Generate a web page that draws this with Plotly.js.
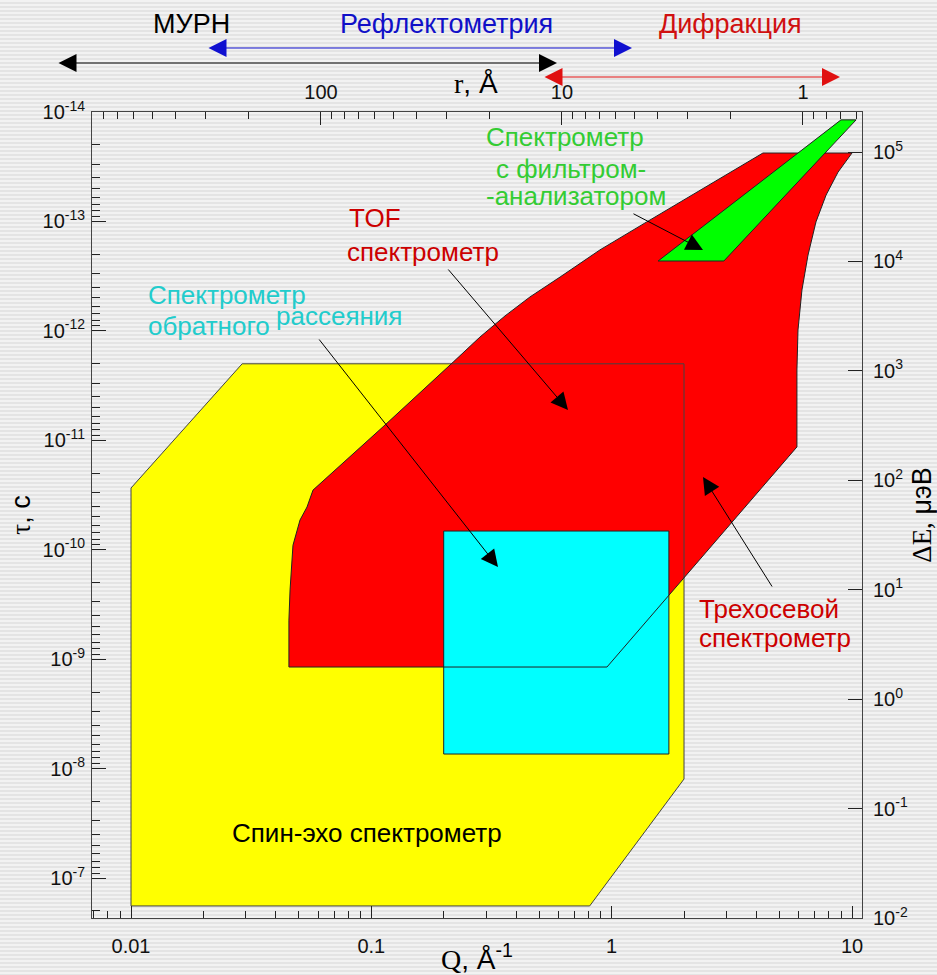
<!DOCTYPE html>
<html>
<head>
<meta charset="utf-8">
<script src="https://cdn.plot.ly/plotly-3.0.1.min.js"></script>
<style>html,body{margin:0;padding:0;background:#ebebeb;}</style>
</head>
<body>
<div id="chart" style="width:937px;height:975px;"></div>
<script>
// ---------- data (Q in Å^-1, τ in s) ----------
const spinEchoQ   = [0.01, 0.01, 0.029, 2.0, 2.0, 0.81, 0.01];
const spinEchoTau = [1.8e-7, 2.73e-11, 2.0e-12, 2.0e-12, 1.245e-8, 1.8e-7, 1.8e-7];

const tofQ   = [0.0454, 0.0454, 0.0459, 0.0463, 0.0472, 0.0505, 0.054, 0.0572, 0.114, 0.219, 0.283, 0.36, 0.457, 0.61, 0.894, 1.40, 4.26, 10.0, 8.75, 7.80, 7.08, 6.56, 6.19, 5.96, 5.90, 5.90, 0.956, 0.0454];
const tofTau = [1.18e-9, 4.4e-10, 2.33e-10, 1.63e-10, 9.1e-11, 5.35e-11, 4.07e-11, 2.85e-11, 7.25e-12, 1.93e-12, 1.14e-12, 7.3e-13, 4.9e-13, 3.22e-13, 1.82e-13, 1.01e-13, 2.37e-14, 2.37e-14, 3.54e-14, 5.74e-14, 1.01e-13, 2.03e-13, 4.23e-13, 9.82e-13, 2.28e-12, 1.15e-11, 1.18e-9, 1.18e-9];

const backQ   = [0.2, 0.2, 1.73, 1.73, 0.2];
const backTau = [7.36e-9, 6.75e-11, 6.75e-11, 7.36e-9, 7.36e-9];

const filterQ   = [1.56, 9.0, 10.4, 2.93, 1.56];
const filterTau = [2.30e-13, 1.18e-14, 1.18e-14, 2.30e-13, 2.30e-13];

// ---------- tick labels ----------
const qTickVals = [0.01, 0.1, 1, 10];
const qTickText = ['0.01', '0.1', '1', '10'];
const tauTickVals = [1e-14, 1e-13, 1e-12, 1e-11, 1e-10, 1e-9, 1e-8, 1e-7];
const tauTickText = ['10<sup>-14</sup>', '10<sup>-13</sup>', '10<sup>-12</sup>', '10<sup>-11</sup>', '10<sup>-10</sup>', '10<sup>-9</sup>', '10<sup>-8</sup>', '10<sup>-7</sup>'];
const rTickVals = [100, 10, 1];
const rTickText = ['100', '10', '1'];
const eTickVals = [1e-2, 1e-1, 1, 10, 100, 1e3, 1e4, 1e5];
const eTickText = ['10<sup>-2</sup>', '10<sup>-1</sup>', '10<sup>0</sup>', '10<sup>1</sup>', '10<sup>2</sup>', '10<sup>3</sup>', '10<sup>4</sup>', '10<sup>5</sup>'];

function minorVals(expFrom, expTo) {
  const out = [];
  for (let e = expFrom; e <= expTo; e++) for (let m = 2; m <= 9; m++) out.push(m * Math.pow(10, e));
  return out;
}

// ---------- layout helpers (pixel -> paper) ----------
const L = 92, R = 862, T = 112, B = 918;
const px = x => (x - L) / (R - L);
const py = y => (B - y) / (B - T);

const SANS = 'Liberation Sans, Arial, sans-serif';

function fillTrace(x, y, color) {
  return {x, y, type: 'scatter', mode: 'lines', fill: 'toself', fillcolor: color,
          line: {width: 0, color: color}, hoverinfo: 'skip', showlegend: false};
}
function lineTrace(x, y, color) {
  return {x, y, type: 'scatter', mode: 'lines', line: {width: 1, color: color},
          hoverinfo: 'skip', showlegend: false};
}

const traces = [
  fillTrace(spinEchoQ, spinEchoTau, '#ffff00'),
  fillTrace(tofQ, tofTau, '#ff0000'),
  fillTrace(backQ, backTau, '#00ffff'),
  lineTrace(spinEchoQ, spinEchoTau, '#444444'),
  lineTrace(tofQ, tofTau, '#222222'),
  lineTrace(backQ, backTau, '#222222'),
  fillTrace(filterQ, filterTau, '#00ff00'),
  lineTrace(filterQ, filterTau, '#222222'),
  // invisible carrier so that the secondary (r, ΔE) axes are drawn
  {x: rTickVals, y: eTickVals.slice(0, 3), xaxis: 'x2', yaxis: 'y2', type: 'scatter', mode: 'markers',
   marker: {opacity: 0, size: 1}, hoverinfo: 'skip', showlegend: false}
];

function label(text, x, y, color, size, xanchor) {
  return {text, x: px(x), y: py(y), xref: 'paper', yref: 'paper', showarrow: false,
          xanchor: xanchor || 'center', yanchor: 'middle',
          font: {family: SANS, size: size || 26, color}};
}
function pointer(tailX, tailY, tipX, tipY, color) {
  return {text: '', x: px(tipX), y: py(tipY), xref: 'paper', yref: 'paper',
          ax: tailX - tipX, ay: tailY - tipY, showarrow: true,
          arrowhead: 2, arrowsize: 3.4, arrowwidth: 1, arrowcolor: color || '#000'};
}
function span(x1, x2, y, color) {
  return {text: '', x: px(x2), y: py(y), xref: 'paper', yref: 'paper',
          ax: x1 - x2, ay: 0, showarrow: true, arrowside: 'end+start',
          arrowhead: 2, arrowsize: 3.6, arrowwidth: 1, arrowcolor: color};
}

const annotations = [
  label('МУРН', 191, 24, '#000000', 27),
  label('Рефлектометрия', 446, 24, '#1010c8', 27),
  label('Дифракция', 730, 24, '#d01010', 27),
  span(207, 632, 48, '#1010d0'),
  span(57, 557, 63, '#000000'),
  span(543, 840, 77, '#e01010'),
  {text: '<span style="font-family:Liberation Serif">r</span>, Å', x: px(476), y: py(84),
   xref: 'paper', yref: 'paper', showarrow: false, xanchor: 'center', yanchor: 'middle',
   font: {family: SANS, size: 28, color: '#000'}},

  label('Спектрометр', 565, 137, '#33cc33'),
  label('с фильтром-', 571, 169, '#33cc33'),
  label('-анализатором', 576, 196, '#33cc33'),
  label('TOF', 347, 218, '#cc0000', 26, 'left'),
  label('спектрометр', 345, 252, '#cc0000', 26, 'left'),
  label('Спектрометр', 146, 295, '#22cccc', 26, 'left'),
  label('обратного', 146, 326, '#22cccc', 26, 'left'),
  label('рассеяния', 274, 316, '#22cccc', 26, 'left'),
  label('Трехосевой', 697, 609, '#cc0000', 26, 'left'),
  label('спектрометр', 697, 638, '#cc0000', 26, 'left'),
  label('Спин-эхо спектрометр', 367, 833, '#000000', 26),

  pointer(447, 268, 568, 410),
  pointer(318, 338, 498, 567),
  pointer(773, 588, 703, 477),
  pointer(632, 213, 703, 250)
];

// faint horizontal stripes like the scanned background
const stripes = 'data:image/svg+xml;base64,' + btoa(
  '<svg xmlns="http://www.w3.org/2000/svg" width="937" height="975">' +
  '<defs><pattern id="p" width="8" height="4" patternUnits="userSpaceOnUse">' +
  '<rect width="8" height="4" fill="#e4e4e4"/><rect y="0" width="8" height="2" fill="#f2f2f2"/></pattern></defs>' +
  '<rect width="937" height="975" fill="url(#p)"/></svg>');

const tickFont = {family: SANS, size: 20, color: '#111'};
const axisCommon = {type: 'log', showgrid: false, zeroline: false, showline: true,
  linecolor: '#444', linewidth: 1, ticks: 'inside', tickwidth: 1, tickcolor: '#222',
  tickfont: tickFont, tickmode: 'array'};

const layout = {
  width: 937, height: 975,
  margin: {l: L, r: 937 - R, t: T, b: 975 - B, pad: 0},
  paper_bgcolor: '#ebebeb', plot_bgcolor: 'rgba(0,0,0,0)',
  showlegend: false,
  images: [{source: stripes, xref: 'paper', yref: 'paper', x: -L / (R - L), y: 1 + T / (B - T),
            sizex: 937 / (R - L), sizey: 975 / (B - T), sizing: 'stretch', xanchor: 'left', yanchor: 'top',
            layer: 'below'}],
  xaxis: Object.assign({}, axisCommon, {
    range: [-2.1623, 1.0416], tickvals: qTickVals, ticktext: qTickText, ticklen: 12,
    ticklabelstandoff: 10,
    minor: {tickmode: 'array', tickvals: minorVals(-3, 0), ticks: 'inside', ticklen: 7, tickcolor: '#222', showgrid: false},
    title: {text: '<span style="font-family:Liberation Serif">Q</span>, Å<sup>-1</sup>', font: {family: SANS, size: 28, color: '#000'}, standoff: 0},
    anchor: 'y'
  }),
  yaxis: Object.assign({}, axisCommon, {
    range: [-6.6346, -14], tickvals: tauTickVals, ticktext: tauTickText, ticklen: 14,
    ticklabelstandoff: 2,
    minor: {tickmode: 'array', tickvals: minorVals(-14, -7), ticks: 'inside', ticklen: 8, tickcolor: '#222', showgrid: false},
    title: {text: '<span style="font-family:Liberation Serif">τ</span>, с', font: {family: SANS, size: 27, color: '#000'}, standoff: 4},
    anchor: 'x'
  }),
  xaxis2: Object.assign({}, axisCommon, {
    overlaying: 'x', side: 'top', anchor: 'y2',
    range: [2.950, -0.245], tickvals: rTickVals, ticktext: rTickText, ticklen: 13,
    ticklabelstandoff: 4,
    minor: {tickmode: 'array', tickvals: minorVals(-1, 2), ticks: 'inside', ticklen: 7, tickcolor: '#222', showgrid: false}
  }),
  yaxis2: Object.assign({}, axisCommon, {
    overlaying: 'y', side: 'right', anchor: 'x2',
    range: [-2, 5.366], tickvals: eTickVals, ticktext: eTickText, ticklen: 14,
    ticklabelstandoff: 6,
    title: {text: '<span style="font-family:Liberation Serif">ΔE,</span> μэВ', font: {family: SANS, size: 27, color: '#000'}, standoff: 6}
  }),
  annotations: annotations
};

Plotly.newPlot('chart', traces, layout, {staticPlot: true, displayModeBar: false});
</script>
</body>
</html>
